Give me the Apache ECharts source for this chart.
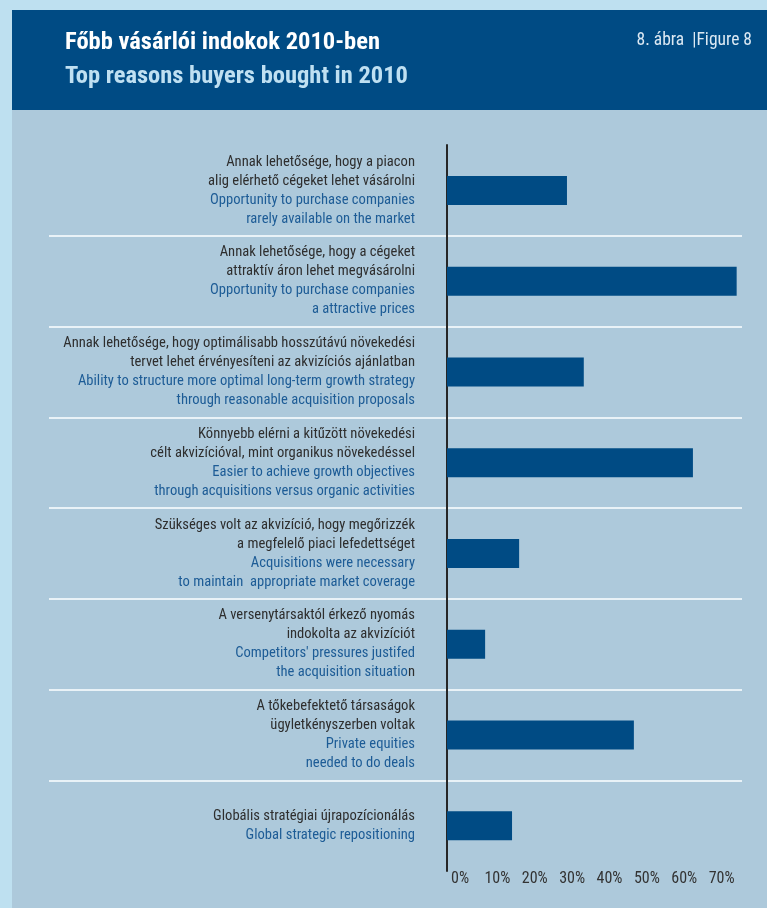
<!DOCTYPE html>
<html>
<head>
<meta charset="utf-8">
<script src="https://cdn.jsdelivr.net/npm/echarts@6/dist/echarts.min.js"></script>
<style>
html,body{margin:0;padding:0;background:#bee0f0;}
#chart{width:767px;height:908px;}
</style>
</head>
<body>
<div id="chart"></div>
<script>
// ---- data ----
const titleHu = 'Főbb vásárlói indokok 2010-ben';
const titleEn = 'Top reasons buyers bought in 2010';
const figureLabel = '8. ábra  |Figure 8';

const labelsHu = [
  ['Annak lehetősége, hogy a piacon', 'alig elérhető cégeket lehet vásárolni'],
  ['Annak lehetősége, hogy a cégeket', 'attraktív áron lehet megvásárolni'],
  ['Annak lehetősége, hogy optimálisabb hosszútávú növekedési', 'tervet lehet érvényesíteni az akvizíciós ajánlatban'],
  ['Könnyebb elérni a kitűzött növekedési', 'célt akvizícióval, mint organikus növekedéssel'],
  ['Szükséges volt az akvizíció, hogy megőrizzék', 'a megfelelő piaci lefedettséget'],
  ['A versenytársaktól érkező nyomás', 'indokolta az akvizíciót'],
  ['A tőkebefektető társaságok', 'ügyletkényszerben voltak'],
  ['Globális stratégiai újrapozícionálás']
];
const labelsEn = [
  ['Opportunity to purchase companies', 'rarely available on the market'],
  ['Opportunity to purchase companies', 'a attractive prices'],
  ['Ability to structure more optimal long-term growth strategy', 'through reasonable acquisition proposals'],
  ['Easier to achieve growth objectives', 'through acquisitions versus organic activities'],
  ['Acquisitions were necessary', 'to maintain  appropriate market coverage'],
  ['Competitors\' pressures justifed', 'the acquisition situatio'],
  ['Private equities', 'needed to do deals'],
  ['Global strategic repositioning']
];
const enDarkTail = ['', '', '', '', '', 'n', '', ''];
const values = [32.1, 77.5, 36.6, 65.8, 19.3, 10.2, 50.0, 17.4];
const xTickValues = [0, 10, 20, 30, 40, 50, 60, 70];
const categories = labelsHu.map((l, i) => 'c' + i);

// ---- chart ----
const FONT = '"Roboto Condensed", "Liberation Sans", sans-serif';
const chart = echarts.init(document.getElementById('chart'), null, {renderer: 'canvas'});

function labelText(idx) {
  const parts = [];
  labelsHu[idx].forEach(l => parts.push('{h|' + l + '}'));
  labelsEn[idx].forEach((l, j) => {
    let s = '{e|' + l + '}';
    if (j === labelsEn[idx].length - 1 && enDarkTail[idx]) s += '{h|' + enDarkTail[idx] + '}';
    parts.push(s);
  });
  return parts.join('\n');
}

const GTOP = 145, GH = 726;

chart.setOption({
  backgroundColor: 'transparent',
  animation: false,
  graphic: [
    {type: 'rect', z: -20, shape: {x: 12, y: 10, width: 755, height: 898}, style: {fill: '#adc9db'}},
    {type: 'rect', z: -19, shape: {x: 12, y: 10, width: 755, height: 100}, style: {fill: '#004b84'}},
    {type: 'text', z: 5, x: 65, y: 43, style: {text: titleHu, fill: '#ffffff', font: 'bold 24.5px ' + FONT, verticalAlign: 'middle'}},
    {type: 'text', z: 5, x: 65, y: 77, style: {text: titleEn, fill: '#bfe0f2', font: 'bold 24.5px ' + FONT, verticalAlign: 'middle'}},
    {type: 'text', z: 5, x: 752, y: 41, style: {text: figureLabel, fill: '#dce9f3', font: '17.5px ' + FONT, align: 'right', verticalAlign: 'middle'}}
  ],
  grid: [
    {left: 49, right: 25, top: GTOP, height: GH},
    {left: 447, width: 299, top: GTOP, height: GH}
  ],
  xAxis: [
    {gridIndex: 0, type: 'value', show: false, min: 0, max: 100},
    {
      gridIndex: 1, type: 'value', min: 0, max: 80, interval: 10,
      axisLine: {show: false}, axisTick: {show: false}, splitLine: {show: false},
      axisLabel: {
        color: '#333333', fontSize: 16, fontFamily: FONT, margin: 0,
        padding: [0, 0, 0, 26], showMaxLabel: false,
        formatter: v => xTickValues.indexOf(v) >= 0 ? v + '%' : ''
      }
    }
  ],
  yAxis: [
    {
      gridIndex: 0, type: 'category', data: categories, inverse: true,
      axisLine: {show: false}, axisTick: {show: false}, axisLabel: {show: false},
      splitLine: {show: true, showMinLine: false, showMaxLine: false, lineStyle: {color: '#e9f2f7', width: 2}}
    },
    {
      gridIndex: 1, type: 'category', data: categories, inverse: true,
      axisLine: {show: true, lineStyle: {color: '#262626', width: 2}},
      axisTick: {show: false}, splitLine: {show: false},
      axisLabel: {
        margin: 32, align: 'right',
        formatter: (v, i) => labelText(i),
        rich: {
          h: {color: '#2e2e2e', fontSize: 14.6, fontFamily: FONT, lineHeight: 19, align: 'right'},
          e: {color: '#1d5c96', fontSize: 14.6, fontFamily: FONT, lineHeight: 19, align: 'right'}
        }
      }
    }
  ],
  series: [
    {
      type: 'bar', xAxisIndex: 1, yAxisIndex: 1, data: values, barWidth: 29,
      itemStyle: {color: '#004b84'}, z: 3
    }
  ]
});
</script>
</body>
</html>
